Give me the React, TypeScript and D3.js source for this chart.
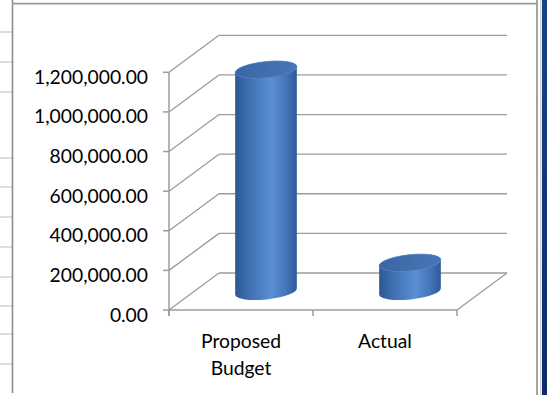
import React from "react";
import * as d3 from "d3";

// ---- data ----
const categories = ["Proposed Budget", "Actual"];
const categoryLabelLines = [["Proposed", "Budget"], ["Actual"]];
const values = [1120000, 145000];
const yTicks = [0, 200000, 400000, 600000, 800000, 1000000, 1200000];

// ---- layout ----
const W = 547;
const H = 395;
const FLOOR_L = 169;
const FLOOR_R = 457;
const Y0 = 310;
const Y1 = 72.3;
const DEPTH_DX = 50;
const DEPTH_DY = -37;
const RX = 31;
const RY = 8;
const TILT = -6;
const FONT = "Lato, 'Open Sans', sans-serif";
const GRID = "#9c9c9c";
const LEFT_ROWS = [32, 62, 92, 158, 187, 217, 247, 277, 306, 334, 364];

export default function App() {
  const x = d3.scaleBand<string>().domain(categories).range([FLOOR_L, FLOOR_R]).padding(0);
  const y = d3.scaleLinear().domain([0, 1200000]).range([Y0, Y1]);
  const fmt = d3.format(",.2f");
  const t = (TILT * Math.PI) / 180;
  const ex = RX * Math.cos(t);
  const ey = RX * Math.sin(t);

  const cylinders = categories.map((c, i) => {
    const cx = (x(c) as number) + x.bandwidth() / 2 + DEPTH_DX / 2;
    const base = y(0) + DEPTH_DY / 2;
    const top = y(values[i]) + DEPTH_DY / 2;
    const side = [
      `M${cx - ex},${top - ey}`,
      `L${cx - ex},${base - ey}`,
      `A${RX},${RY} ${TILT} 0 0 ${cx + ex},${base + ey}`,
      `L${cx + ex},${top + ey}`,
      `A${RX},${RY} ${TILT} 0 1 ${cx - ex},${top - ey}`,
      "Z",
    ].join(" ");
    return { c, cx, base, top, side, i };
  });

  return (
    <svg
      width={W}
      height={H}
      style={{ position: "absolute", left: 0, top: 0, background: "#fff" }}
    >
      <defs>
        {cylinders.map((d) => (
          <linearGradient
            key={"g" + d.i}
            id={"side" + d.i}
            gradientUnits="userSpaceOnUse"
            x1={d.cx - RX}
            x2={d.cx + RX}
            y1={0}
            y2={0}
          >
            <stop offset="0" stopColor="#2c5893" />
            <stop offset="0.15" stopColor="#3868aa" />
            <stop offset="0.58" stopColor="#5b8fd5" />
            <stop offset="0.82" stopColor="#4675b8" />
            <stop offset="1" stopColor="#2d5a95" />
          </linearGradient>
        ))}
        <linearGradient id="topg" x1="0" x2="1" y1="0" y2="0">
          <stop offset="0" stopColor="#3a66a4" />
          <stop offset="1" stopColor="#4776b7" />
        </linearGradient>
        <linearGradient id="strip" x1="0" x2="0" y1="0" y2="1">
          <stop offset="0" stopColor="#184385" />
          <stop offset="1" stopColor="#0c2b6c" />
        </linearGradient>
      </defs>

      {/* spreadsheet surroundings */}
      {LEFT_ROWS.map((r) => (
        <line key={"lr" + r} x1={0} x2={12} y1={r} y2={r} stroke="#d2d2d2" strokeWidth={1.5} />
      ))}
      <line x1={12.5} x2={12.5} y1={0} y2={393} stroke="#8e8e8e" strokeWidth={1.6} />
      <line x1={12} x2={537} y1={3.6} y2={3.6} stroke="#9a9a9a" strokeWidth={1.6} />
      <line x1={537} x2={537} y1={0} y2={H} stroke="#8e8e8e" strokeWidth={1.6} />
      <line x1={540.7} x2={540.7} y1={0} y2={H} stroke="#cfcfcf" strokeWidth={1.3} />
      <rect x={542} y={0} width={5} height={H} fill="url(#strip)" />

      {/* back wall gridlines */}
      {yTicks.map((v) => (
        <line
          key={"bg" + v}
          x1={FLOOR_L + DEPTH_DX}
          x2={FLOOR_R + DEPTH_DX}
          y1={y(v) + DEPTH_DY}
          y2={y(v) + DEPTH_DY}
          stroke={GRID}
          strokeWidth={1.3}
        />
      ))}
      {/* side wall gridlines */}
      {yTicks.map((v) => (
        <line
          key={"sg" + v}
          x1={FLOOR_L}
          x2={FLOOR_L + DEPTH_DX}
          y1={y(v)}
          y2={y(v) + DEPTH_DY}
          stroke={GRID}
          strokeWidth={1.3}
        />
      ))}
      {/* floor */}
      <line x1={FLOOR_L} x2={FLOOR_R} y1={y(0)} y2={y(0)} stroke={GRID} strokeWidth={1.5} />
      <line
        x1={FLOOR_R}
        x2={FLOOR_R + DEPTH_DX}
        y1={y(0)}
        y2={y(0) + DEPTH_DY}
        stroke={GRID}
        strokeWidth={1.3}
      />
      {/* vertical axis */}
      <line x1={FLOOR_L} x2={FLOOR_L} y1={y(1200000)} y2={y(0) + 6} stroke={GRID} strokeWidth={1.5} />
      {yTicks.map((v) => (
        <g key={"yt" + v}>
          <line x1={FLOOR_L - 6} x2={FLOOR_L} y1={y(v)} y2={y(v)} stroke={GRID} strokeWidth={1.5} />
          <text
            x={148}
            y={y(v) + 11.5}
            textAnchor="end"
            fontFamily={FONT}
            fontSize={19.3}
            fill="#000"
          >
            {fmt(v)}
          </text>
        </g>
      ))}
      {/* category ticks */}
      {[...categories.map((c) => x(c) as number), FLOOR_R].map((px, i) => (
        <line key={"xt" + i} x1={px} x2={px} y1={y(0)} y2={y(0) + 6} stroke={GRID} strokeWidth={1.5} />
      ))}
      {categories.map((c, i) => (
        <text
          key={"xl" + c}
          x={(x(c) as number) + x.bandwidth() / 2}
          y={348.3}
          textAnchor="middle"
          fontFamily={FONT}
          fontSize={19.3}
          fill="#000"
        >
          {categoryLabelLines[i].map((ln, j) => (
            <tspan key={j} x={(x(c) as number) + x.bandwidth() / 2} dy={j === 0 ? 0 : 26.7}>
              {ln}
            </tspan>
          ))}
        </text>
      ))}

      {/* cylinders */}
      {cylinders.map((d) => (
        <g key={"cy" + d.i}>
          <path d={d.side} fill={`url(#side${d.i})`} />
          <ellipse
            cx={d.cx}
            cy={d.top}
            rx={RX}
            ry={RY}
            transform={`rotate(${TILT},${d.cx},${d.top})`}
            fill="url(#topg)"
            stroke="#4a78b6"
            strokeWidth={0.8}
          />
        </g>
      ))}
    </svg>
  );
}
